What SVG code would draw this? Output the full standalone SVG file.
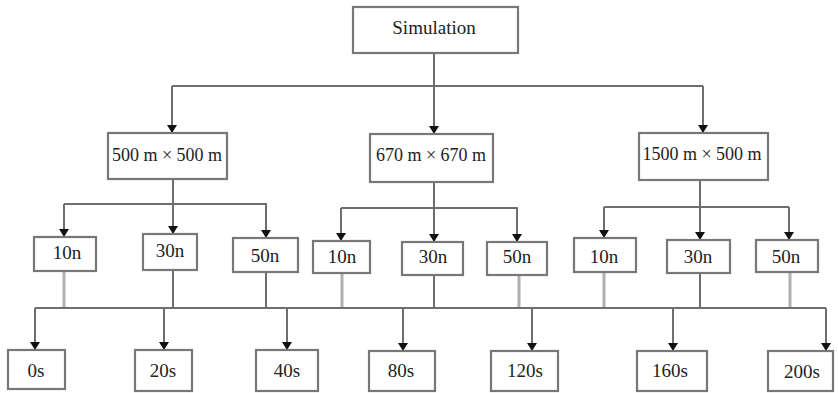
<svg xmlns="http://www.w3.org/2000/svg" width="838" height="393" viewBox="0 0 838 393">
<defs>
<marker id="ah" markerUnits="userSpaceOnUse" markerWidth="9" markerHeight="10" refX="8" refY="5" orient="auto" viewBox="0 0 9 10">
<path d="M0,0 L8,5 L0,10 Z" fill="#111"/>
</marker>
<style>
.box{fill:#fff;stroke:#777;stroke-width:2.2}
.t{font-family:"Liberation Serif","Times New Roman",serif;font-size:19px;fill:#222;text-anchor:middle}
.t2{font-size:18px}
.ln{fill:none;stroke:#6e6e6e;stroke-width:2}
.lt{fill:none;stroke:#b0b0b0;stroke-width:3}
</style>
</defs>
<rect width="838" height="393" fill="#fff"/>
<g id="connectors">
<path class="ln" d="M434,53 V86 M172,86 H703"/>
<path class="ln" d="M172,86 V133" marker-end="url(#ah)"/>
<path class="ln" d="M434,86 V134" marker-end="url(#ah)"/>
<path class="ln" d="M703,86 V133" marker-end="url(#ah)"/>
<path class="ln" d="M173,179 V204 M64,204 H267"/>
<path class="ln" d="M64,204 V237" marker-end="url(#ah)"/>
<path class="ln" d="M173,204 V234" marker-end="url(#ah)"/>
<path class="ln" d="M266,204 V238" marker-end="url(#ah)"/>
<path class="ln" d="M434,182 V208 M341,208 H518"/>
<path class="ln" d="M341,208 V241" marker-end="url(#ah)"/>
<path class="ln" d="M434,208 V242" marker-end="url(#ah)"/>
<path class="ln" d="M517,208 V242" marker-end="url(#ah)"/>
<path class="ln" d="M700,180 V207 M604,207 H789"/>
<path class="ln" d="M604,207 V238" marker-end="url(#ah)"/>
<path class="ln" d="M700,207 V240" marker-end="url(#ah)"/>
<path class="ln" d="M789,207 V240" marker-end="url(#ah)"/>
<path class="lt" d="M64,271 V308 M342,273 V308 M604,272 V308 M519,275 V308 M790,272 V308"/>
<path class="ln" d="M173,270 V308 M266,272 V308 M434,275 V308 M700,273 V308"/>
<path class="ln" d="M35,308 H826"/>
<path class="ln" d="M35,308 V350" marker-end="url(#ah)"/>
<path class="ln" d="M164,308 V350" marker-end="url(#ah)"/>
<path class="ln" d="M287,308 V350" marker-end="url(#ah)"/>
<path class="ln" d="M403,308 V351" marker-end="url(#ah)"/>
<path class="ln" d="M532,308 V351" marker-end="url(#ah)"/>
<path class="ln" d="M673,308 V351" marker-end="url(#ah)"/>
<path class="ln" d="M826,308 V351" marker-end="url(#ah)"/>
</g>
<g id="simulation"><rect class="box" x="353" y="7" width="165" height="46"/><text class="t" x="434" y="34">Simulation</text></g>
<g id="a500"><rect class="box" x="108" y="133" width="119" height="46"/><text class="t t2" x="167" y="161">500 m × 500 m</text></g>
<g id="a670"><rect class="box" x="370" y="134" width="123" height="48"/><text class="t t2" x="431" y="161">670 m × 670 m</text></g>
<g id="a1500"><rect class="box" x="639" y="133" width="129" height="47"/><text class="t t2" x="702" y="160">1500 m × 500 m</text></g>
<g id="n10a"><rect class="box" x="34" y="237" width="62" height="34"/><text class="t" x="67" y="259">10n</text></g>
<g id="n30a"><rect class="box" x="143" y="234" width="54" height="36"/><text class="t" x="170" y="257">30n</text></g>
<g id="n50a"><rect class="box" x="233" y="238" width="65" height="34"/><text class="t" x="265" y="262">50n</text></g>
<g id="n10b"><rect class="box" x="313" y="241" width="57" height="32"/><text class="t" x="342" y="263">10n</text></g>
<g id="n30b"><rect class="box" x="402" y="242" width="61" height="33"/><text class="t" x="433" y="263">30n</text></g>
<g id="n50b"><rect class="box" x="487" y="242" width="60" height="33"/><text class="t" x="517" y="263">50n</text></g>
<g id="n10c"><rect class="box" x="574" y="238" width="62" height="34"/><text class="t" x="604" y="263">10n</text></g>
<g id="n30c"><rect class="box" x="667" y="240" width="63" height="33"/><text class="t" x="698" y="263">30n</text></g>
<g id="n50c"><rect class="box" x="756" y="240" width="62" height="32"/><text class="t" x="786" y="263">50n</text></g>
<g id="s0"><rect class="box" x="8" y="350" width="57" height="39"/><text class="t" x="36" y="377">0s</text></g>
<g id="s20"><rect class="box" x="135" y="350" width="57" height="41"/><text class="t" x="163" y="377">20s</text></g>
<g id="s40"><rect class="box" x="256" y="350" width="62" height="41"/><text class="t" x="287" y="377">40s</text></g>
<g id="s80"><rect class="box" x="369" y="351" width="66" height="40"/><text class="t" x="401" y="377">80s</text></g>
<g id="s120"><rect class="box" x="491" y="351" width="67" height="40"/><text class="t" x="525" y="377">120s</text></g>
<g id="s160"><rect class="box" x="637" y="351" width="70" height="40"/><text class="t" x="670" y="377">160s</text></g>
<g id="s200"><rect class="box" x="768" y="351" width="65" height="40"/><text class="t" x="802" y="378">200s</text></g>
</svg>
